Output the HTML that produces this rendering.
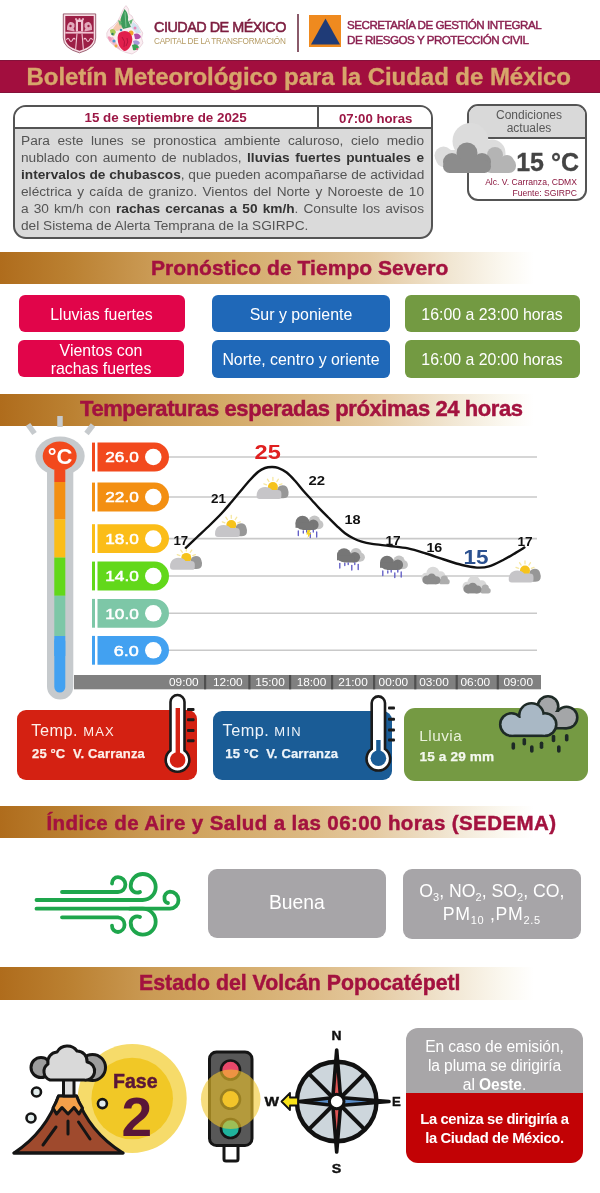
<!DOCTYPE html>
<html lang="es">
<head>
<meta charset="utf-8">
<title>Boletín Meteorológico para la Ciudad de México</title>
<style>
*{box-sizing:border-box;margin:0;padding:0}
html,body{width:600px;height:1193px;overflow:hidden;background:#fff}
body{position:relative;font-family:"Liberation Sans",Arial,sans-serif;color:#333}
.a{position:absolute}
.nw{white-space:nowrap}
/* header */
.hd1{left:154px;top:18.5px;font-size:14.4px;font-weight:normal;color:#7d1d3f;letter-spacing:-0.5px;-webkit-text-stroke:0.55px #7d1d3f}
.hd2{left:154px;top:36.7px;font-size:8.2px;color:#b49a62;letter-spacing:-0.25px}
.sep{left:297px;top:14px;width:1.5px;height:38px;background:#8a5a6a}
.pc{left:347px;font-size:11.6px;font-weight:normal;color:#8b2150;letter-spacing:-0.48px;-webkit-text-stroke:0.45px #8b2150}
/* title */
.title{left:0;top:60px;width:600px;height:33px;background:#a20e3e;border-top:1px solid #84123a;border-bottom:1px solid #84123a}
.title span{position:absolute;left:26.5px;top:2px;font-size:24px;font-weight:bold;color:#d7a66b;letter-spacing:-0.05px;-webkit-text-stroke:0.35px #d7a66b}
/* bulletin */
.bul{left:13px;top:105px;width:420px;height:134px;border:2px solid #545454;border-radius:13px;background:#dadada;overflow:hidden}
.bul .hdr{position:absolute;left:0;top:0;width:100%;height:22px;background:#fff;border-bottom:2px solid #545454}
.bul .vd{position:absolute;left:302px;top:0;width:2px;height:22px;background:#545454}
.date{left:84.5px;top:110.3px;font-size:13.4px;font-weight:bold;color:#9c1846}
.hour{left:339px;top:110.5px;font-size:13.2px;font-weight:bold;color:#9c1846}
.txt{left:21px;width:403px;font-size:13.7px;color:#545454;line-height:17px;text-align:justify;text-align-last:justify;white-space:nowrap}
.txt b{color:#333}
/* conditions */
.cond{left:467px;top:104px;width:120px;height:97px;border:2px solid #545454;border-radius:11px;overflow:hidden;background:#fff}
.cond .ch{position:absolute;left:0;top:0;width:100%;height:33px;background:#d9d9d9;border-bottom:2px solid #545454}

/* section bands */
.band{left:0;width:600px;height:32px;background:linear-gradient(to right,#af6c1c 0%,#bb8132 12%,#ca9a54 25%,#d3a966 37%,#dbb881 50%,#e4c9a0 62%,#f1e6d2 75%,#fbf8f0 84%,#fff 89%)}
.band span{position:absolute;top:3.5px;font-size:21px;font-weight:bold;color:#a3123f;white-space:nowrap;letter-spacing:0;-webkit-text-stroke:0.45px #a3123f}
.btn{position:absolute;border-radius:6px;color:#fff;font-size:15.9px;text-align:center;display:flex;align-items:center;justify-content:center;line-height:18.4px;padding-top:3.5px}
.red{background:#e1054a}
.blue{background:#1f68b8}
.green{background:#739a42}

.card{position:absolute;border-radius:9px}
.ct1{position:absolute;font-size:16.3px;color:#fdf0ea;white-space:nowrap;letter-spacing:0.5px}
.ct1 small{font-size:13px;letter-spacing:1.2px}
.ct2{position:absolute;font-size:13px;font-weight:bold;color:#fdf0ea;white-space:nowrap;letter-spacing:0.15px;-webkit-text-stroke:0.25px currentColor}
.gbox{position:absolute;background:#a7a5a8;border-radius:9px;color:#fff;text-align:center}
.pol{font-size:17.7px;line-height:22.5px;white-space:nowrap}
.pol sub{font-size:11px;vertical-align:-4px;line-height:0}
.ibox{position:absolute;left:405.7px;top:1027.7px;width:177.6px;height:135.6px;border-radius:12px;overflow:hidden}
</style>
</head>
<body>
<!-- HEADER -->
<svg class="a" style="left:60px;top:10px" width="40" height="46" viewBox="60 10 40 46">
  <path d="M63.3 13.9 H95.7 V38 Q95.7 48.3 79.5 52.8 Q63.3 48.3 63.3 38 Z" fill="#f6dce3" stroke="#874055" stroke-width="0.8"/>
  <path d="M65.3 15.9 H93.7 V38 Q93.7 46.6 79.5 50.7 Q65.3 46.6 65.3 38 Z" fill="#9c1f46"/>
  <g fill="#f0c2d1">
    <rect x="75.8" y="19.6" width="7.4" height="12"/>
    <rect x="75.2" y="18.2" width="1.6" height="2"/><rect x="78.7" y="18.2" width="1.6" height="2"/><rect x="82.2" y="18.2" width="1.6" height="2"/>
    <rect x="65.3" y="31.8" width="28.4" height="1.8"/>
    <path d="M67 30 Q66.5 24 70 22 Q73 21.5 74.5 24 Q75 27 73.5 28.5 Q75 30 74.5 31.5 Z" opacity="0.85"/>
    <path d="M92 30 Q92.5 24 89 22 Q86 21.5 84.5 24 Q84 27 85.5 28.5 Q84 30 84.5 31.5 Z" opacity="0.85"/>
  </g>
  <g fill="#9c1f46">
    <rect x="78" y="22" width="3" height="9"/>
    <circle cx="70.5" cy="26" r="1.2"/><circle cx="88.5" cy="26" r="1.2"/>
  </g>
  <g fill="none" stroke="#f0c2d1" stroke-width="1.1">
    <path d="M77 33.6 L75.6 49.6 M82 33.6 L83.4 49.6"/>
    <path d="M66.5 40 Q68 36.5 69.5 40 Q71 43 72.5 40 Q74 37 75.2 39.5"/>
    <path d="M92.5 40 Q91 36.5 89.5 40 Q88 43 86.5 40 Q85 37 83.8 39.5"/>
  </g>
</svg>
<svg class="a" style="left:104px;top:3px" width="44" height="54" viewBox="104 3 44 54">
  <path d="M126 5.6 L128.5 9 L129 14 L132 16 L134 21 L137 24 L139.5 28 L142.8 33 L141.5 38 L143 43 L140 47 L137 51 L132 54 L126 52.5 L120 50 L115 46 L111 43 L107 37.5 L106.8 33 L109 29 L113 26 L117 22 L120 17 L122 12 L124 8 Z" fill="#fbeef2" stroke="#e6cdd6" stroke-width="0.8"/>
  <path d="M117 23 L121 18 L124 26 L118 31 L112 30 Z" fill="#f6c9b0"/>
  <path d="M133 22 L138 26 L141 33 L136 33 L131 27 Z" fill="#cfe3ef"/>
  <path d="M108 38 L113 37 L117 44 L121 50 L115 47 Z" fill="#f3b7c8"/>
  <path d="M124.5 9 Q129 14 128 20 L131 27 L123 29 Q119 22 121.5 16 Z" fill="#3d9a5c"/>
  <path d="M125 12 L126 27" stroke="#8fd19e" stroke-width="0.8"/>
  <path d="M122 22 L118 20 L120 26 Z M129 21 L133 19 L131 25 Z" fill="#5cb46f"/>
  <path d="M110 30 Q114 27 116 32 L114 36 Q110 35 110 30 Z" fill="#a8cc58"/>
  <path d="M107.5 37 Q110 35 112 39 L110 42 Z" fill="#f09ab8"/>
  <circle cx="131" cy="33" r="2.5" fill="#f2a330"/>
  <path d="M119 33 Q125 29 130 33 Q134 38 131 45 Q128 51 124 51 Q119 48 118 42 Q117 36 119 33 Z" fill="#e1204d"/>
  <path d="M122 37 Q126 41 124 47 M127 38 Q129 42 126 46" stroke="#b0123c" stroke-width="0.9" fill="none"/>
  <path d="M134 34 Q139 32 141 37 Q139 40 135 39 Z" fill="#b34aa6"/>
  <path d="M133 41 Q138 39 140 43 Q138 46 134 45 Z" fill="#8e7ed0" opacity="0.8"/>
  <path d="M132 45 Q137 43 139 47 Q137 51 133 50 Z" fill="#3aa154"/>
  <circle cx="114" cy="41" r="1.6" fill="#4c9ad0"/>
  <circle cx="116" cy="46" r="1.4" fill="#e6b040"/>
  <circle cx="112.5" cy="34" r="1.2" fill="#2f7a64"/>
  <circle cx="135" cy="28" r="1.5" fill="#e686b6"/>
  <circle cx="121" cy="30" r="1.3" fill="#3a8fb0"/>
  <circle cx="137" cy="49" r="1.1" fill="#d95a7c"/>
</svg>
<div class="a nw hd1">CIUDAD DE MÉXICO</div>
<div class="a nw hd2">CAPITAL DE LA TRANSFORMACIÓN</div>
<div class="a sep"></div>
<svg class="a" style="left:309px;top:15px" width="32" height="32" viewBox="0 0 32 32">
  <rect width="32" height="32" fill="#ef8a1f"/>
  <path d="M16.5 3.5 L31 29.5 L2 29.5 Z" fill="#1f3b77"/>
</svg>
<div class="a nw pc" style="top:17.9px">SECRETARÍA DE GESTIÓN INTEGRAL</div>
<div class="a nw pc" style="top:32.7px">DE RIESGOS Y PROTECCIÓN CIVIL</div>

<!-- TITLE -->
<div class="a title"><span class="nw">Boletín Meteorológico para la Ciudad de México</span></div>

<!-- BULLETIN -->
<div class="a bul"><div class="hdr"></div><div class="vd"></div></div>
<div class="a nw date">15 de septiembre de 2025</div>
<div class="a nw hour">07:00 horas</div>
<div class="a txt" style="top:132px">Para este lunes se pronostica ambiente caluroso, cielo medio</div>
<div class="a txt" style="top:149px">nublado con aumento de nublados, <b>lluvias fuertes puntuales e</b></div>
<div class="a txt" style="top:166px"><b>intervalos de chubascos</b>, que pueden acompañarse de actividad</div>
<div class="a txt" style="top:183px">eléctrica y caída de granizo. Vientos del Norte y Noroeste de 10</div>
<div class="a txt" style="top:200px">a 30 km/h con <b>rachas cercanas a 50 km/h</b>. Consulte los avisos</div>
<div class="a txt" style="top:217px;text-align-last:left">del Sistema de Alerta Temprana de la SGIRPC.</div>

<!-- CONDITIONS -->
<div class="a cond"><div class="ch"></div></div>
<div class="a nw" style="left:470px;top:108.6px;width:118px;text-align:center;font-size:12px;line-height:13.6px;color:#585858">Condiciones<br>actuales</div>
<div class="a nw" style="left:516.2px;top:148px;font-size:25px;font-weight:bold;color:#444;-webkit-text-stroke:0.3px #444">15 °C</div>
<div class="a nw" style="left:470px;top:177px;width:107px;text-align:right;font-size:8.6px;line-height:10.5px;color:#8b1840">Alc. V. Carranza, CDMX<br>Fuente: SGIRPC</div>
<svg class="a" style="left:432px;top:118px" width="90" height="60" viewBox="432 118 90 60">
  <g fill="#dcdcdc">
    <circle cx="470.5" cy="141" r="18"/>
    <circle cx="443.5" cy="155.5" r="9"/>
    <circle cx="492" cy="153" r="13.5"/>
    <rect x="436" y="150" width="70" height="17" rx="8"/>
  </g>
  <g fill="#b4b4b4">
    <circle cx="495" cy="155" r="8"/>
    <circle cx="507" cy="162" r="7"/>
    <rect x="484" y="158" width="32" height="15" rx="7"/>
  </g>
  <g fill="#8c8c8c">
    <circle cx="467" cy="153" r="10.5"/>
    <circle cx="452" cy="162" r="9"/>
    <circle cx="482" cy="162" r="9"/>
    <rect x="443" y="160" width="48" height="13" rx="6.5"/>
  </g>
</svg>

<!-- SEVERE -->
<div class="a band" style="top:252px"><span style="left:151px;letter-spacing:0.05px">Pronóstico de Tiempo Severo</span></div>
<div class="btn red" style="left:18.5px;top:294.5px;width:166px;height:37px">Lluvias fuertes</div>
<div class="btn red" style="left:18px;top:339.5px;width:166px;height:37.5px">Vientos con<br>rachas fuertes</div>
<div class="btn blue" style="left:212px;top:295px;width:178px;height:37px">Sur y poniente</div>
<div class="btn blue" style="left:212px;top:340px;width:178px;height:37.5px">Norte, centro y oriente</div>
<div class="btn green" style="left:404.5px;top:295px;width:175px;height:37px">16:00 a 23:00 horas</div>
<div class="btn green" style="left:404.5px;top:340px;width:175px;height:37.5px">16:00 a 20:00 horas</div>

<!-- TEMPERATURES -->
<div class="a band" style="top:394px"><span style="left:80px;top:1.5px;font-size:22px;letter-spacing:-0.42px">Temperaturas esperadas próximas 24 horas</span></div>

<!-- CARDS -->
<div class="card" style="left:17.3px;top:710px;width:180px;height:70px;background:#d42112"></div>
<div class="ct1" style="left:31.3px;top:721.2px">Temp. <small>MAX</small></div>
<div class="ct2" style="left:32px;top:745.6px">25 °C&nbsp; V. Carranza</div>
<div class="card" style="left:212.7px;top:710.7px;width:179px;height:69.3px;background:#1a5c96"></div>
<div class="ct1" style="left:222.5px;top:721.2px;color:#eef4fa">Temp. <small>MIN</small></div>
<div class="ct2" style="left:225.3px;top:745.6px;color:#eef4fa">15 °C&nbsp; V. Carranza</div>
<div class="card" style="left:404.3px;top:708.3px;width:183.4px;height:72.4px;background:#759a43;border-radius:11px"></div>
<div class="ct1" style="left:419.3px;top:727.4px;font-size:15.3px;color:#eaf2dc">Lluvia</div>
<div class="ct2" style="left:419.5px;top:749px;font-size:13.6px;color:#f4f8ee">15 a 29 mm</div>
<svg class="a" style="left:160px;top:690px" width="440" height="95" viewBox="160 690 440 95">
  <!-- red thermometer -->
  <g>
    <path d="M170.5 702 A7 7 0 0 1 184.5 702 V750.5 A11.8 11.8 0 1 1 170.5 750.5 Z" fill="#fff" stroke="#1b1b1b" stroke-width="2.6"/>
    <rect x="175.6" y="708" width="4.4" height="46" fill="#d42112"/>
    <circle cx="177.6" cy="760" r="7.8" fill="#d42112"/>
    <g fill="#1b1b1b"><rect x="187" y="708" width="7.5" height="3" rx="1"/><rect x="187" y="718.3" width="7.5" height="3" rx="1"/><rect x="187" y="729" width="7.5" height="3" rx="1"/><rect x="187" y="739.3" width="7.5" height="3" rx="1"/></g>
  </g>
  <!-- blue thermometer -->
  <g>
    <path d="M371.7 703 A6.65 6.65 0 0 1 385 703 V749 A11.8 11.8 0 1 1 371.7 749 Z" fill="#fff" stroke="#1b1b1b" stroke-width="2.6"/>
    <rect x="376.2" y="740" width="4.4" height="14" fill="#1a5c96"/>
    <circle cx="378.4" cy="758.3" r="7.8" fill="#1a5c96"/>
    <g fill="#1b1b1b"><rect x="388" y="706.5" width="7" height="3" rx="1"/><rect x="388" y="717.8" width="7" height="3" rx="1"/><rect x="388" y="728.5" width="7" height="3" rx="1"/><rect x="388" y="738.5" width="7" height="3" rx="1"/></g>
  </g>
  <!-- rain clouds -->
  <g stroke="#1e2a26" stroke-width="5.2" fill="#1e2a26"><circle cx="548" cy="706.5" r="9"/><circle cx="566.5" cy="717.5" r="9.5"/><circle cx="541" cy="716" r="8"/><rect x="541" y="712" width="25.5" height="15" rx="1"/></g>
  <g fill="#a4a6a8"><circle cx="548" cy="706.5" r="9"/><circle cx="566.5" cy="717.5" r="9.5"/><circle cx="541" cy="716" r="8"/><rect x="541" y="712" width="25.5" height="15" rx="1"/></g>
  <g stroke="#1e2a26" stroke-width="5.2" fill="#1e2a26"><circle cx="511.5" cy="724.5" r="10"/><circle cx="531.5" cy="715.5" r="11"/><circle cx="545" cy="724.5" r="10"/><rect x="511.5" y="718" width="33.5" height="16.5"/></g>
  <g fill="#a9b8c5"><circle cx="511.5" cy="724.5" r="10"/><circle cx="531.5" cy="715.5" r="11"/><circle cx="545" cy="724.5" r="10"/><rect x="511.5" y="718" width="33.5" height="16.5"/></g>
  <g stroke="#1e2a26" stroke-width="3.6" stroke-linecap="round">
    <line x1="513.3" y1="744" x2="513.3" y2="748"/>
    <line x1="524.3" y1="739.8" x2="524.3" y2="743.8"/>
    <line x1="531.8" y1="747" x2="531.8" y2="751"/>
    <line x1="541.5" y1="743.3" x2="541.5" y2="747.3"/>
    <line x1="553.5" y1="736.5" x2="553.5" y2="740.5"/>
    <line x1="558.8" y1="747" x2="558.8" y2="751"/>
    <line x1="566.7" y1="735.7" x2="566.7" y2="739.7"/>
  </g>
</svg>

<!-- AIR -->
<div class="a band" style="top:805.5px"><span style="left:46.5px;top:5.3px;font-size:20.5px;letter-spacing:0.4px">Índice de Aire y Salud a las 06:00 horas (SEDEMA)</span></div>
<svg class="a" style="left:30px;top:868px" width="155" height="72" viewBox="30 868 155 72">
  <g fill="none" stroke="#1ea64c" stroke-width="3.8" stroke-linecap="round">
    <path d="M62 892 H118 A7.4 7.4 0 0 0 118 877.2 A6 6 0 0 0 112 883.5"/>
    <path d="M36.5 900 H142.7 A13 13 0 0 0 142.7 874 A12 12 0 0 0 130.7 886 A6.5 6.5 0 0 0 140 892"/>
    <path d="M36.5 908.7 H170 A8.5 8.5 0 0 0 170 891.7 A6 6 0 0 0 164.5 899 A4 4 0 0 0 168 903"/>
    <path d="M130 908.7 H142.7 A13 13 0 0 1 142.7 934.7 A12 12 0 0 1 130.7 922.7 A6.5 6.5 0 0 1 140 917"/>
    <path d="M62 917.3 H118 A7.4 7.4 0 0 1 118 932 A6 6 0 0 1 112 925.7"/>
  </g>
</svg>
<div class="gbox" style="left:208px;top:868.5px;width:177.6px;height:69.5px"><div style="position:absolute;left:0;width:100%;top:23px;font-size:19.3px">Buena</div></div>
<div class="gbox" style="left:402.7px;top:869px;width:178.3px;height:69.8px"><div class="pol" style="position:absolute;left:0;width:100%;top:11px">O<sub>3</sub>, NO<sub>2</sub>, SO<sub>2</sub>, CO,<br><span style="letter-spacing:0.7px">PM<sub>10</sub> ,PM<sub>2.5</sub></span></div></div>

<!-- VOLCANO -->
<div class="a band" style="top:967px;height:33px"><span style="left:139px;top:3.8px;font-size:21.3px;letter-spacing:0px">Estado del Volcán Popocatépetl</span></div>
<div class="ibox">
  <div style="position:absolute;left:0;top:0;width:100%;height:65.8px;background:#a8a6a8"></div>
  <div style="position:absolute;left:0;top:65.8px;width:100%;height:70px;background:#c20205"></div>
  <div style="position:absolute;left:0;top:9.3px;width:100%;text-align:center;font-size:15.6px;line-height:19px;color:#fff;white-space:nowrap;letter-spacing:-0.1px">En caso de emisión,<br>la pluma se dirigiría<br>al <b>Oeste</b>.</div>
  <div style="position:absolute;left:0;top:82.5px;width:100%;text-align:center;font-size:14.8px;line-height:18.4px;color:#fff;font-weight:bold;white-space:nowrap;letter-spacing:-0.4px">La ceniza se dirigiría a<br>la Ciudad de México.</div>
</div>

<svg class="a" style="left:0;top:1020px" width="600" height="173" viewBox="0 1020 600 173">
  <!-- fase circle -->
  <circle cx="132.2" cy="1098.5" r="54.5" fill="#f6db6a"/>
  <circle cx="132.2" cy="1098.5" r="40.8" fill="#f1c826"/>
  <text x="113" y="1088" font-family="Liberation Sans, Arial, sans-serif" font-weight="bold" font-size="21" fill="#5a1638" stroke="#5a1638" stroke-width="0.5" textLength="44.5" lengthAdjust="spacingAndGlyphs">Fase</text>
  <text x="121.5" y="1136" font-family="Liberation Sans, Arial, sans-serif" font-weight="bold" font-size="55" fill="#5a1638">2</text>
  <!-- volcano -->
  <g stroke="#151515" stroke-width="3" stroke-linejoin="round" stroke-linecap="round">
    <path d="M14 1153 Q46 1132 58.5 1096 H76.5 Q89 1132 123 1153 Z" fill="#9f4a2d"/>
    <path d="M58.5 1096 H76.5 Q78.5 1102 82.5 1108 L79 1114 L74 1107.5 L68 1114 L62 1107.5 L56.5 1114 L53 1108 Q56.5 1102 58.5 1096 Z" fill="#f4a04a"/>
    <rect x="63.5" y="1078" width="10.5" height="18" fill="#dedede"/>
    <circle cx="41" cy="1067.5" r="10" fill="#9d9d9d"/>
    <circle cx="92.5" cy="1067.5" r="13" fill="#9d9d9d"/>
    <path d="M50 1080 A9 9 0 0 1 48 1064 A10 10 0 0 1 57 1052 A12 12 0 0 1 77 1051 A10 10 0 0 1 87 1062 A9 9 0 0 1 84 1080 Z" fill="#d9d9d9"/>
    <circle cx="36.5" cy="1092" r="4.5" fill="#e2ecec" stroke-width="2.6"/>
    <circle cx="31" cy="1118" r="4.5" fill="#e2ecec" stroke-width="2.6"/>
    <circle cx="102.4" cy="1103.6" r="4.5" fill="#e2ecec" stroke-width="2.6"/>
    <line x1="68" y1="1121" x2="68" y2="1134" />
    <line x1="78.5" y1="1122" x2="90" y2="1139"/>
    <line x1="56" y1="1127" x2="43" y2="1145"/>
    <line x1="14" y1="1153" x2="123" y2="1153"/>
  </g>
  <!-- traffic light -->
  <g stroke="#151515" stroke-width="3">
    <rect x="224" y="1144" width="14" height="17" rx="2" fill="#fff"/>
    <rect x="209.5" y="1052" width="42.5" height="93.5" rx="7" fill="#585858"/>
    <circle cx="230.5" cy="1070" r="9.5" fill="#e8486a" stroke-width="2.6"/>
    <circle cx="230.5" cy="1099.3" r="9.5" fill="#f5c12c" stroke-width="2.6"/>
    <circle cx="230.5" cy="1128.5" r="9.5" fill="#1fb39c" stroke-width="2.6"/>
  </g>
  <circle cx="230.7" cy="1099.3" r="29.8" fill="#f2c62a" fill-opacity="0.6"/>
  <!-- compass -->
  <circle cx="336.7" cy="1101.5" r="39.8" fill="#cdd6dc" stroke="#111" stroke-width="4.4"/>
  <g stroke="#111" stroke-width="4"><line x1="336.7" y1="1101.5" x2="364.3" y2="1129.1"/><line x1="336.7" y1="1101.5" x2="309.1" y2="1129.1"/><line x1="336.7" y1="1101.5" x2="309.1" y2="1073.9"/><line x1="336.7" y1="1101.5" x2="364.3" y2="1073.9"/></g>
  <path d="M336.7 1050 L340.9 1101.5 L336.7 1152 L332.5 1101.5 Z" fill="#e05454" stroke="#111" stroke-width="3.6" stroke-linejoin="round"/>
  <path d="M299 1101.5 L336.7 1097.3 L389 1101.5 L336.7 1105.7 Z" fill="#5b8fcb" stroke="#111" stroke-width="3.6" stroke-linejoin="round"/>
  <circle cx="336.7" cy="1101.5" r="7.3" fill="#fff" stroke="#111" stroke-width="3"/>
  <path d="M281.5 1101.5 L290 1093 V1097.5 H298 V1105.5 H290 V1110 Z" fill="#f8e21a" stroke="#111" stroke-width="1.8" stroke-linejoin="round"/>
  <g font-family="Liberation Sans, Arial, sans-serif" font-weight="bold" font-size="13.5" fill="#111" stroke="#111" stroke-width="0.4">
    <text x="331.6" y="1040" textLength="10" lengthAdjust="spacingAndGlyphs">N</text>
    <text x="331.8" y="1172.5" textLength="9.5" lengthAdjust="spacingAndGlyphs">S</text>
    <text x="264.6" y="1106.3" textLength="14.5" lengthAdjust="spacingAndGlyphs">W</text>
    <text x="392" y="1106.3" textLength="8.8" lengthAdjust="spacingAndGlyphs">E</text>
  </g>
</svg>

<!--CHART-->
<svg class="a" style="left:0;top:400px" width="600" height="305" viewBox="0 400 600 305">
<g stroke="#c9c9c9" stroke-width="1.6">
<line x1="160" y1="457" x2="537" y2="457"/>
<line x1="160" y1="497" x2="537" y2="497"/>
<line x1="160" y1="538.6" x2="537" y2="538.6"/>
<line x1="160" y1="576" x2="537" y2="576"/>
<line x1="160" y1="613.3" x2="537" y2="613.3"/>
<line x1="160" y1="650.3" x2="537" y2="650.3"/>
</g>
<rect x="92" y="442.6" width="3" height="28.8" fill="#f2491d"/>
<path d="M97.5 442.6 H154.6 A14.4 14.4 0 0 1 154.6 471.4 H97.5 Z" fill="#f2491d"/>
<circle cx="153.3" cy="457" r="8.3" fill="#fff"/>
<text x="105.3" y="462.3" textLength="33.5" lengthAdjust="spacingAndGlyphs" font-family="Liberation Sans, Arial, sans-serif" font-size="15.2" fill="#fff" stroke="#fff" stroke-width="0.55">26.0</text>
<rect x="92" y="482.6" width="3" height="28.8" fill="#f38f12"/>
<path d="M97.5 482.6 H154.6 A14.4 14.4 0 0 1 154.6 511.4 H97.5 Z" fill="#f38f12"/>
<circle cx="153.3" cy="497" r="8.3" fill="#fff"/>
<text x="105.3" y="502.3" textLength="33.5" lengthAdjust="spacingAndGlyphs" font-family="Liberation Sans, Arial, sans-serif" font-size="15.2" fill="#fff" stroke="#fff" stroke-width="0.55">22.0</text>
<rect x="92" y="524.2" width="3" height="28.8" fill="#fbbd18"/>
<path d="M97.5 524.2 H154.6 A14.4 14.4 0 0 1 154.6 553.0 H97.5 Z" fill="#fbbd18"/>
<circle cx="153.3" cy="538.6" r="8.3" fill="#fff"/>
<text x="105.3" y="543.9" textLength="33.5" lengthAdjust="spacingAndGlyphs" font-family="Liberation Sans, Arial, sans-serif" font-size="15.2" fill="#fff" stroke="#fff" stroke-width="0.55">18.0</text>
<rect x="92" y="561.6" width="3" height="28.8" fill="#62d81a"/>
<path d="M97.5 561.6 H154.6 A14.4 14.4 0 0 1 154.6 590.4 H97.5 Z" fill="#62d81a"/>
<circle cx="153.3" cy="576" r="8.3" fill="#fff"/>
<text x="105.3" y="581.3" textLength="33.5" lengthAdjust="spacingAndGlyphs" font-family="Liberation Sans, Arial, sans-serif" font-size="15.2" fill="#fff" stroke="#fff" stroke-width="0.55">14.0</text>
<rect x="92" y="598.9" width="3" height="28.8" fill="#7dc7a7"/>
<path d="M97.5 598.9 H154.6 A14.4 14.4 0 0 1 154.6 627.7 H97.5 Z" fill="#7dc7a7"/>
<circle cx="153.3" cy="613.3" r="8.3" fill="#fff"/>
<text x="105.3" y="618.6" textLength="33.5" lengthAdjust="spacingAndGlyphs" font-family="Liberation Sans, Arial, sans-serif" font-size="15.2" fill="#fff" stroke="#fff" stroke-width="0.55">10.0</text>
<rect x="92" y="635.9" width="3" height="28.8" fill="#42a1f1"/>
<path d="M97.5 635.9 H154.6 A14.4 14.4 0 0 1 154.6 664.7 H97.5 Z" fill="#42a1f1"/>
<circle cx="153.3" cy="650.3" r="8.3" fill="#fff"/>
<text x="113.8" y="655.6" textLength="25" lengthAdjust="spacingAndGlyphs" font-family="Liberation Sans, Arial, sans-serif" font-size="15.2" fill="#fff" stroke="#fff" stroke-width="0.55">6.0</text>
<g stroke="#c6cacd" stroke-width="5.5">
<line x1="60" y1="416" x2="60" y2="427"/>
<line x1="28" y1="424.5" x2="34.5" y2="433.5"/>
<line x1="93" y1="425" x2="86.5" y2="433.5"/>
</g>
<rect x="47" y="455" width="26.3" height="244.5" rx="13.1" fill="#c6cacd"/>
<ellipse cx="60" cy="456" rx="24.7" ry="19.5" fill="#c6cacd"/>
<rect x="54.3" y="470" width="11" height="12.0" fill="#f2491d"/>
<rect x="54.3" y="482" width="11" height="37.3" fill="#f38f12"/>
<rect x="54.3" y="519.3" width="11" height="38.3" fill="#fbbd18"/>
<rect x="54.3" y="557.6" width="11" height="38.2" fill="#62d81a"/>
<rect x="54.3" y="595.8" width="11" height="40.2" fill="#7dc7a7"/>
<rect x="54.3" y="636" width="11" height="56.5" rx="5.5" fill="#42a1f1"/>
<rect x="54.3" y="636" width="11" height="20" fill="#42a1f1"/>
<ellipse cx="59.7" cy="456" rx="17" ry="14.5" fill="#f2491d"/>
<text x="60" y="464" text-anchor="middle" font-family="Liberation Sans, Arial, sans-serif" font-size="22" font-weight="bold" fill="#fff">°C</text>
<rect x="74" y="675" width="467" height="14.3" fill="#808080"/>
<rect x="204" y="675" width="2.2" height="14.3" fill="#4f4f4f"/>
<rect x="248.3" y="675" width="2.2" height="14.3" fill="#4f4f4f"/>
<rect x="289" y="675" width="2.2" height="14.3" fill="#4f4f4f"/>
<rect x="331" y="675" width="2.2" height="14.3" fill="#4f4f4f"/>
<rect x="373" y="675" width="2.2" height="14.3" fill="#4f4f4f"/>
<rect x="414.2" y="675" width="2.2" height="14.3" fill="#4f4f4f"/>
<rect x="455.6" y="675" width="2.2" height="14.3" fill="#4f4f4f"/>
<rect x="496.7" y="675" width="2.2" height="14.3" fill="#4f4f4f"/>
<text x="169.0" y="686.4" textLength="29.6" lengthAdjust="spacingAndGlyphs" font-family="Liberation Sans, Arial, sans-serif" font-size="11.3" fill="#fff">09:00</text>
<text x="213.0" y="686.4" textLength="29.6" lengthAdjust="spacingAndGlyphs" font-family="Liberation Sans, Arial, sans-serif" font-size="11.3" fill="#fff">12:00</text>
<text x="255.2" y="686.4" textLength="29.6" lengthAdjust="spacingAndGlyphs" font-family="Liberation Sans, Arial, sans-serif" font-size="11.3" fill="#fff">15:00</text>
<text x="296.7" y="686.4" textLength="29.6" lengthAdjust="spacingAndGlyphs" font-family="Liberation Sans, Arial, sans-serif" font-size="11.3" fill="#fff">18:00</text>
<text x="338.2" y="686.4" textLength="29.6" lengthAdjust="spacingAndGlyphs" font-family="Liberation Sans, Arial, sans-serif" font-size="11.3" fill="#fff">21:00</text>
<text x="378.6" y="686.4" textLength="29.6" lengthAdjust="spacingAndGlyphs" font-family="Liberation Sans, Arial, sans-serif" font-size="11.3" fill="#fff">00:00</text>
<text x="419.2" y="686.4" textLength="29.6" lengthAdjust="spacingAndGlyphs" font-family="Liberation Sans, Arial, sans-serif" font-size="11.3" fill="#fff">03:00</text>
<text x="460.5" y="686.4" textLength="29.6" lengthAdjust="spacingAndGlyphs" font-family="Liberation Sans, Arial, sans-serif" font-size="11.3" fill="#fff">06:00</text>
<text x="503.4" y="686.4" textLength="29.6" lengthAdjust="spacingAndGlyphs" font-family="Liberation Sans, Arial, sans-serif" font-size="11.3" fill="#fff">09:00</text>
<g stroke="#f6e7a0" stroke-width="1.3" stroke-linecap="round"><line x1="179.91" y1="555.57" x2="177.28" y2="554.62"/><line x1="182.40" y1="552.33" x2="180.79" y2="550.04"/><line x1="186.30" y1="551.10" x2="186.30" y2="548.30"/><line x1="190.20" y1="552.33" x2="191.81" y2="550.04"/><line x1="192.69" y1="555.57" x2="195.32" y2="554.62"/></g><path transform="translate(170.00 549.30)" d="M20.3 12.5 Q20.8 7 26 6.8 Q30.3 7 31.3 10.8 Q32.4 13.5 31.8 16.5 Q30.8 19.7 26.5 19.7 H21 Z" fill="#979797"/><circle cx="186.30" cy="557.90" r="5" fill="#f6c31b"/><path transform="translate(170.00 549.30)" d="M0 17.5 Q0 20.5 3 20.5 H22 Q24.8 20.5 24.8 17.6 V15 Q24.8 11.6 21 11.6 H15.5 Q13.2 8.4 8.6 8.4 Q3.6 8.4 1.4 12 Q0 14 0 17.5 Z" fill="#c6c5c8"/>
<g stroke="#f6e7a0" stroke-width="1.3" stroke-linecap="round"><line x1="224.91" y1="522.77" x2="222.28" y2="521.82"/><line x1="227.40" y1="519.53" x2="225.79" y2="517.24"/><line x1="231.30" y1="518.30" x2="231.30" y2="515.50"/><line x1="235.20" y1="519.53" x2="236.81" y2="517.24"/><line x1="237.69" y1="522.77" x2="240.32" y2="521.82"/></g><path transform="translate(215.00 516.50)" d="M20.3 12.5 Q20.8 7 26 6.8 Q30.3 7 31.3 10.8 Q32.4 13.5 31.8 16.5 Q30.8 19.7 26.5 19.7 H21 Z" fill="#979797"/><circle cx="231.30" cy="525.10" r="5" fill="#f6c31b"/><path transform="translate(215.00 516.50)" d="M0 17.5 Q0 20.5 3 20.5 H22 Q24.8 20.5 24.8 17.6 V15 Q24.8 11.6 21 11.6 H15.5 Q13.2 8.4 8.6 8.4 Q3.6 8.4 1.4 12 Q0 14 0 17.5 Z" fill="#c6c5c8"/>
<g stroke="#f6e7a0" stroke-width="1.3" stroke-linecap="round"><line x1="266.51" y1="484.77" x2="263.88" y2="483.82"/><line x1="269.00" y1="481.53" x2="267.39" y2="479.24"/><line x1="272.90" y1="480.30" x2="272.90" y2="477.50"/><line x1="276.80" y1="481.53" x2="278.41" y2="479.24"/><line x1="279.29" y1="484.77" x2="281.92" y2="483.82"/></g><path transform="translate(256.60 478.50)" d="M20.3 12.5 Q20.8 7 26 6.8 Q30.3 7 31.3 10.8 Q32.4 13.5 31.8 16.5 Q30.8 19.7 26.5 19.7 H21 Z" fill="#979797"/><circle cx="272.90" cy="487.10" r="5" fill="#f6c31b"/><path transform="translate(256.60 478.50)" d="M0 17.5 Q0 20.5 3 20.5 H22 Q24.8 20.5 24.8 17.6 V15 Q24.8 11.6 21 11.6 H15.5 Q13.2 8.4 8.6 8.4 Q3.6 8.4 1.4 12 Q0 14 0 17.5 Z" fill="#c6c5c8"/>
<g transform="translate(295.00 515.50)"><g fill="#c4c4c4"><circle cx="19.5" cy="5.8" r="5.8"/><circle cx="24" cy="9.2" r="4.4"/><rect x="14" y="8" width="10" height="5.6"/></g><g fill="#767676"><circle cx="7.5" cy="7.3" r="7"/><circle cx="18.3" cy="9.2" r="5.3"/><rect x="7.5" y="7.3" width="10.8" height="7.2"/><rect x="0.5" y="7.3" width="7" height="5"/></g><g stroke="#5b57c4" stroke-width="1.3" stroke-linecap="round"><line x1="3.3" y1="15.5" x2="3.3" y2="20"/><line x1="8.3" y1="15.5" x2="8.3" y2="17.5"/><line x1="11.7" y1="15" x2="11.7" y2="16.5"/><line x1="15.3" y1="17.5" x2="15.3" y2="22"/><line x1="18.3" y1="15" x2="18.3" y2="16.5"/><line x1="21.7" y1="16.5" x2="21.7" y2="21.5"/></g><path d="M12.5 14.5 h3 l-1.2 3 h2 l-3.8 5 l0.8 -3.6 h-2 z" fill="#f2d020"/></g>
<g transform="translate(336.50 548.00)"><g fill="#c4c4c4"><circle cx="19.5" cy="5.8" r="5.8"/><circle cx="24" cy="9.2" r="4.4"/><rect x="14" y="8" width="10" height="5.6"/></g><g fill="#767676"><circle cx="7.5" cy="7.3" r="7"/><circle cx="18.3" cy="9.2" r="5.3"/><rect x="7.5" y="7.3" width="10.8" height="7.2"/><rect x="0.5" y="7.3" width="7" height="5"/></g><g stroke="#5b57c4" stroke-width="1.3" stroke-linecap="round"><line x1="3.3" y1="15.5" x2="3.3" y2="20"/><line x1="8.3" y1="15.5" x2="8.3" y2="17.5"/><line x1="11.7" y1="15" x2="11.7" y2="16.5"/><line x1="15.3" y1="17.5" x2="15.3" y2="22"/><line x1="18.3" y1="15" x2="18.3" y2="16.5"/><line x1="21.7" y1="16.5" x2="21.7" y2="21.5"/></g></g>
<g transform="translate(379.50 555.50)"><g fill="#c4c4c4"><circle cx="19.5" cy="5.8" r="5.8"/><circle cx="24" cy="9.2" r="4.4"/><rect x="14" y="8" width="10" height="5.6"/></g><g fill="#767676"><circle cx="7.5" cy="7.3" r="7"/><circle cx="18.3" cy="9.2" r="5.3"/><rect x="7.5" y="7.3" width="10.8" height="7.2"/><rect x="0.5" y="7.3" width="7" height="5"/></g><g stroke="#5b57c4" stroke-width="1.3" stroke-linecap="round"><line x1="3.3" y1="15.5" x2="3.3" y2="20"/><line x1="8.3" y1="15.5" x2="8.3" y2="17.5"/><line x1="11.7" y1="15" x2="11.7" y2="16.5"/><line x1="15.3" y1="17.5" x2="15.3" y2="22"/><line x1="18.3" y1="15" x2="18.3" y2="16.5"/><line x1="21.7" y1="16.5" x2="21.7" y2="21.5"/></g></g>
<g transform="translate(421.00 566.70)"><g fill="#d9d9d9"><circle cx="12" cy="6.5" r="6.5"/><circle cx="5" cy="10.5" r="4.5"/><circle cx="19.5" cy="9.5" r="5"/><rect x="5" y="8" width="14.5" height="7"/></g><g fill="#adadad"><circle cx="23.3" cy="12.3" r="3.6"/><rect x="18" y="12.3" width="10.7" height="5.3" rx="2.6"/><rect x="18" y="12.3" width="5.3" height="3"/></g><g fill="#8c8c8c"><circle cx="10.7" cy="11.5" r="4.6"/><circle cx="5.8" cy="13.2" r="4.4"/><circle cx="15.3" cy="13.6" r="4"/><rect x="5.8" y="12" width="9.5" height="5.6"/></g></g>
<g transform="translate(462.00 575.80)"><g fill="#d9d9d9"><circle cx="12" cy="6.5" r="6.5"/><circle cx="5" cy="10.5" r="4.5"/><circle cx="19.5" cy="9.5" r="5"/><rect x="5" y="8" width="14.5" height="7"/></g><g fill="#adadad"><circle cx="23.3" cy="12.3" r="3.6"/><rect x="18" y="12.3" width="10.7" height="5.3" rx="2.6"/><rect x="18" y="12.3" width="5.3" height="3"/></g><g fill="#8c8c8c"><circle cx="10.7" cy="11.5" r="4.6"/><circle cx="5.8" cy="13.2" r="4.4"/><circle cx="15.3" cy="13.6" r="4"/><rect x="5.8" y="12" width="9.5" height="5.6"/></g></g>
<g stroke="#f6e7a0" stroke-width="1.3" stroke-linecap="round"><line x1="518.61" y1="568.27" x2="515.98" y2="567.32"/><line x1="521.10" y1="565.03" x2="519.49" y2="562.74"/><line x1="525.00" y1="563.80" x2="525.00" y2="561.00"/><line x1="528.90" y1="565.03" x2="530.51" y2="562.74"/><line x1="531.39" y1="568.27" x2="534.02" y2="567.32"/></g><path transform="translate(508.70 562.00)" d="M20.3 12.5 Q20.8 7 26 6.8 Q30.3 7 31.3 10.8 Q32.4 13.5 31.8 16.5 Q30.8 19.7 26.5 19.7 H21 Z" fill="#979797"/><circle cx="525.00" cy="570.60" r="5" fill="#f6c31b"/><path transform="translate(508.70 562.00)" d="M0 17.5 Q0 20.5 3 20.5 H22 Q24.8 20.5 24.8 17.6 V15 Q24.8 11.6 21 11.6 H15.5 Q13.2 8.4 8.6 8.4 Q3.6 8.4 1.4 12 Q0 14 0 17.5 Z" fill="#c6c5c8"/>
<path d="M185.8 547.8 C187.62 546.08 192.67 541.30 196.70 537.50 C200.73 533.70 205.83 529.03 210.00 525.00 C214.17 520.97 218.08 517.18 221.70 513.30 C225.32 509.42 228.65 505.30 231.70 501.70 C234.75 498.10 236.95 495.32 240.00 491.70 C243.05 488.08 246.95 483.33 250.00 480.00 C253.05 476.67 255.80 473.70 258.30 471.70 C260.80 469.70 262.77 468.78 265.00 468.00 C267.23 467.22 269.53 467.03 271.70 467.00 C273.87 466.97 275.50 466.88 278.00 467.80 C280.50 468.72 283.87 470.33 286.70 472.50 C289.53 474.67 292.23 477.75 295.00 480.80 C297.77 483.85 300.52 487.60 303.30 490.80 C306.08 494.00 308.92 496.93 311.70 500.00 C314.48 503.07 317.23 506.28 320.00 509.20 C322.77 512.12 325.52 514.73 328.30 517.50 C331.08 520.27 333.92 523.17 336.70 525.80 C339.48 528.43 342.23 531.22 345.00 533.30 C347.77 535.38 350.52 536.90 353.30 538.30 C356.08 539.70 358.58 540.77 361.70 541.70 C364.82 542.63 367.28 543.18 372.00 543.90 C376.72 544.62 384.00 545.25 390.00 546.00 C396.00 546.75 402.00 547.15 408.00 548.40 C414.00 549.65 420.00 551.65 426.00 553.50 C432.00 555.35 438.00 557.58 444.00 559.50 C450.00 561.42 456.50 563.65 462.00 565.00 C467.50 566.35 472.50 567.37 477.00 567.60 C481.50 567.83 484.50 567.75 489.00 566.40 C493.50 565.05 499.50 561.80 504.00 559.50 C508.50 557.20 512.60 554.60 516.00 552.60 C519.40 550.60 523.00 548.35 524.40 547.50" fill="none" stroke="#111" stroke-width="2.4" stroke-linecap="round"/>
<text x="173.4" y="545" textLength="14.7" lengthAdjust="spacingAndGlyphs" font-family="Liberation Sans, Arial, sans-serif" font-weight="bold" font-size="13" fill="#111">17</text>
<text x="211.0" y="502.5" textLength="15.0" lengthAdjust="spacingAndGlyphs" font-family="Liberation Sans, Arial, sans-serif" font-weight="bold" font-size="13" fill="#111">21</text>
<text x="308.4" y="484.5" textLength="16.6" lengthAdjust="spacingAndGlyphs" font-family="Liberation Sans, Arial, sans-serif" font-weight="bold" font-size="13" fill="#111">22</text>
<text x="344.4" y="523.8" textLength="16.2" lengthAdjust="spacingAndGlyphs" font-family="Liberation Sans, Arial, sans-serif" font-weight="bold" font-size="13" fill="#111">18</text>
<text x="385.4" y="545" textLength="15.2" lengthAdjust="spacingAndGlyphs" font-family="Liberation Sans, Arial, sans-serif" font-weight="bold" font-size="13" fill="#111">17</text>
<text x="426.4" y="551.8" textLength="15.9" lengthAdjust="spacingAndGlyphs" font-family="Liberation Sans, Arial, sans-serif" font-weight="bold" font-size="13" fill="#111">16</text>
<text x="517.4" y="546" textLength="15.2" lengthAdjust="spacingAndGlyphs" font-family="Liberation Sans, Arial, sans-serif" font-weight="bold" font-size="13" fill="#111">17</text>
<text x="254.6" y="459" textLength="26.2" lengthAdjust="spacingAndGlyphs" font-family="Liberation Sans, Arial, sans-serif" font-weight="bold" font-size="21" fill="#e02020">25</text>
<text x="463.5" y="564.3" textLength="25" lengthAdjust="spacingAndGlyphs" font-family="Liberation Sans, Arial, sans-serif" font-weight="bold" font-size="20.5" fill="#2b5190">15</text>
</svg>
<!--/CHART-->
</body>
</html>
